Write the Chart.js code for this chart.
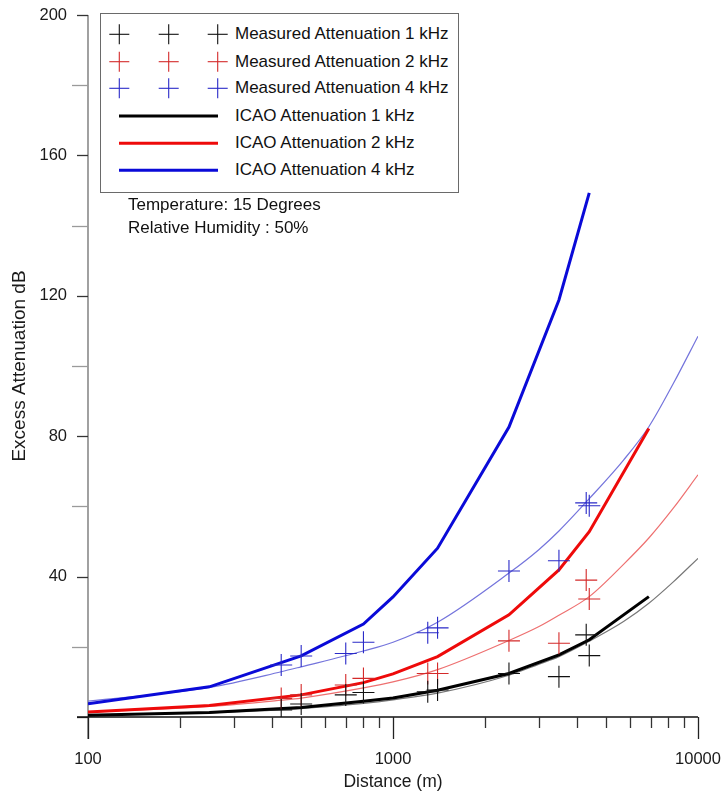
<!DOCTYPE html>
<html>
<head>
<meta charset="utf-8">
<script src="https://cdn.jsdelivr.net/npm/chart.js@4.4.1/dist/chart.umd.min.js"></script>
<style>
  html, body { margin: 0; padding: 0; background: #fff; }
  #wrap { position: relative; width: 723px; height: 794px; overflow: hidden; }
  #chart { position: absolute; left: 0; top: 0; }
  .legend { position: absolute; left: 100px; top: 13px; width: 359px; height: 180px;
            box-sizing: border-box; border: 1.3px solid #6a6a6a; background: #fff;
            font-family: "Liberation Sans", Arial, sans-serif; font-size: 17px; color: #111; }
  .legend svg { position: absolute; left: 0; top: 0; }
  .legend span { position: absolute; left: 134px; line-height: 20px; white-space: nowrap; }
  .note { position: absolute; left: 128px; font-family: "Liberation Sans", Arial, sans-serif;
          font-size: 17px; line-height: 20px; color: #111; white-space: nowrap; }
</style>
</head>
<body>
<div id="wrap">
  <canvas id="chart" width="723" height="794"></canvas>
  <div class="legend" id="legend"></div>
  <div class="note" style="top:195px">Temperature: 15 Degrees</div>
  <div class="note" style="top:218px">Relative Humidity : 50%</div>
</div>
<script>
// ---------- data ----------
const measuredDistances = [430, 500, 700, 800, 1300, 1400, 2400, 3500, 4300, 4400];
const measured1k = [2.0, 3.7, 6.3, 7.0, 7.2, 7.7, 12.4, 11.5, 23.4, 17.5];
const measured2k = [5.3, 6.3, 9.1, 11.0, 12.4, 12.4, 21.7, 21.0, 39.0, 33.6];
const measured4k = [14.8, 17.4, 18.1, 21.3, 24.0, 25.4, 41.6, 44.5, 61.0, 60.2];

const icaoDistances = [100, 250, 500, 800, 1000, 1400, 2400, 3500, 4400, 6900];
const icao1k = [0.5, 1.3, 2.7, 4.5, 5.4, 7.6, 12.4, 17.7, 22.0, 34.3];
const icao2k = [1.4, 3.3, 6.3, 9.8, 12.3, 17.2, 29.1, 41.9, 52.8, 82.2];
const icao4kDistances = [100, 250, 500, 800, 1000, 1400, 2400, 3500, 4400];
const icao4k = [3.8, 8.6, 17.4, 26.5, 34.2, 48.1, 82.6, 118.8, 149.3];

const fitDistances = [100, 250, 430, 500, 800, 1000, 1400, 2400, 3000, 3500, 4400, 5700, 6900, 8300, 10000];
const fit1k = [0.5, 1.2, 2.0, 2.4, 3.9, 4.9, 6.8, 11.9, 15.0, 17.2, 21.6, 27.2, 32.4, 38.5, 45.2];
const fit2k = [1.4, 3.0, 4.8, 5.4, 8.3, 10.0, 13.5, 21.8, 25.7, 29.0, 34.3, 43.5, 51.0, 59.5, 69.0];
const fit4k = [4.5, 8.4, 12.9, 14.3, 18.8, 21.3, 27.0, 41.0, 47.6, 53.0, 62.2, 73.2, 82.7, 95.0, 108.5];

const xTickValues = [100,200,300,400,500,600,700,800,900,1000,2000,3000,4000,5000,6000,7000,8000,9000,10000];
const xLabelValues = [100, 1000, 10000];
const yTickValues = [0,20,40,60,80,100,120,140,160,180,200];
const yLabelValues = [40, 80, 120, 160, 200];

const legendLabels = [
  'Measured Attenuation 1 kHz', 'Measured Attenuation 2 kHz', 'Measured Attenuation 4 kHz',
  'ICAO Attenuation 1 kHz', 'ICAO Attenuation 2 kHz', 'ICAO Attenuation 4 kHz'
];
const xTitle = 'Distance (m)';
const yTitle = 'Excess Attenuation dB';

// ---------- colours ----------
const C = {
  m1: '#111111', m2: '#d42a2a', m4: '#2a2ac8',
  i1: '#000000', i2: '#ee0a0a', i4: '#0a0ad8',
  f1: '#777777', f2: '#ee7070', f4: '#7474dc'
};

const pts = (xs, ys) => xs.map((x, i) => ({x, y: ys[i]}));
const crossDs = (label, ys, color) => ({
  label, data: pts(measuredDistances, ys), showLine: false,
  pointStyle: 'cross', pointRadius: 11, pointBorderWidth: 1.1,
  borderColor: color, backgroundColor: color
});
const lineDs = (label, xs, ys, color, w, smooth) => ({
  label, data: pts(xs, ys), showLine: true, pointRadius: 0, borderWidth: w,
  borderColor: color, backgroundColor: color, fill: false,
  cubicInterpolationMode: smooth ? 'monotone' : 'default', tension: 0
});

const axisPlugin = {
  id: 'axisDraw',
  beforeDatasetsDraw(chart) {
    const {ctx, chartArea: a, scales: {x, y}} = chart;
    ctx.save();
    ctx.lineWidth = 1.3;
    ctx.strokeStyle = '#6e6e6e';
    ctx.beginPath(); ctx.moveTo(a.left, a.top); ctx.lineTo(a.left, a.bottom + 22); ctx.stroke();
    yTickValues.forEach(v => {
      const py = Math.round(y.getPixelForValue(v)) + 0.5;
      const major = v % 40 === 0;
      ctx.strokeStyle = major ? '#333' : '#9a9a9a';
      ctx.beginPath(); ctx.moveTo(a.left - (major ? 11 : 16), py); ctx.lineTo(a.left, py); ctx.stroke();
    });
    ctx.strokeStyle = '#111';
    ctx.beginPath(); ctx.moveTo(a.left - 11, a.bottom); ctx.lineTo(a.right, a.bottom); ctx.stroke();
    xTickValues.forEach(v => {
      const px = Math.round(x.getPixelForValue(v)) + 0.5;
      const major = xLabelValues.includes(v);
      ctx.strokeStyle = major ? '#222' : '#333';
      ctx.beginPath(); ctx.moveTo(px, a.bottom); ctx.lineTo(px, a.bottom + (major ? 22 : 11)); ctx.stroke();
    });
    ctx.restore();
  }
};

const font = "'Liberation Sans', Arial, sans-serif";
new Chart(document.getElementById('chart'), {
  type: 'scatter',
  data: {
    datasets: [
      crossDs(legendLabels[0], measured1k, C.m1),
      crossDs(legendLabels[1], measured2k, C.m2),
      crossDs(legendLabels[2], measured4k, C.m4),
      lineDs(legendLabels[3], icaoDistances, icao1k, C.i1, 3, false),
      lineDs(legendLabels[4], icaoDistances, icao2k, C.i2, 3, false),
      lineDs(legendLabels[5], icao4kDistances, icao4k, C.i4, 3, false),
      lineDs('Fit 1 kHz', fitDistances, fit1k, C.f1, 1.2, true),
      lineDs('Fit 2 kHz', fitDistances, fit2k, C.f2, 1.2, true),
      lineDs('Fit 4 kHz', fitDistances, fit4k, C.f4, 1.2, true)
    ]
  },
  options: {
    responsive: false, animation: false, events: [],
    layout: { padding: { top: 15, right: 25, left: 0, bottom: 0 } },
    plugins: { legend: { display: false }, tooltip: { enabled: false } },
    scales: {
      x: {
        type: 'logarithmic', min: 100, max: 10000,
        grid: { display: false, drawTicks: false }, border: { display: false },
        afterBuildTicks: s => { s.ticks = xTickValues.map(v => ({value: v})); },
        afterFit: s => { s.height = 77; s.paddingLeft = 0; s.paddingRight = 0; s.paddingTop = 0; s.paddingBottom = 0; },
        ticks: {
          autoSkip: false, maxRotation: 0, padding: 33, color: '#1a1a1a',
          font: { family: font, size: 16.5 },
          callback: v => xLabelValues.includes(v) ? String(v) : ''
        },
        title: { display: true, text: xTitle, color: '#1a1a1a', padding: { top: 0, bottom: 1.5 },
                 font: { family: font, size: 17.5 } }
      },
      y: {
        type: 'linear', min: 0, max: 200,
        grid: { display: false, drawTicks: false }, border: { display: false },
        afterBuildTicks: s => { s.ticks = yTickValues.map(v => ({value: v})); },
        afterFit: s => { s.width = 88; s.paddingLeft = 0; s.paddingRight = 0; s.paddingTop = 0; s.paddingBottom = 0; },
        ticks: {
          padding: 21, color: '#1a1a1a', font: { family: font, size: 16.5 },
          callback: v => yLabelValues.includes(v) ? String(v) : ''
        },
        title: { display: true, text: yTitle, color: '#1a1a1a', padding: { top: 8, bottom: 0 },
                 font: { family: font, size: 19 } }
      }
    }
  },
  plugins: [axisPlugin]
});

// ---------- legend (HTML) ----------
(function buildLegend() {
  const el = document.getElementById('legend');
  const rowsY = [20.3, 47.7, 74.3, 102, 129.3, 156.3];
  const crossX = [18.3, 67.7, 116.7];
  const colors = [C.m1, C.m2, C.m4, C.i1, C.i2, C.i4];
  let svg = '<svg width="359" height="180" xmlns="http://www.w3.org/2000/svg">';
  rowsY.forEach((ry, i) => {
    if (i < 3) {
      crossX.forEach(cx => {
        svg += `<line x1="${cx-10}" y1="${ry}" x2="${cx+10}" y2="${ry}" stroke="${colors[i]}" stroke-width="1.1"/>`;
        svg += `<line x1="${cx}" y1="${ry-10}" x2="${cx}" y2="${ry+10}" stroke="${colors[i]}" stroke-width="1.1"/>`;
      });
    } else {
      svg += `<line x1="18" y1="${ry}" x2="117" y2="${ry}" stroke="${colors[i]}" stroke-width="3"/>`;
    }
  });
  svg += '</svg>';
  el.innerHTML = svg + legendLabels.map((t, i) => `<span style="top:${rowsY[i]-10}px">${t}</span>`).join('');
})();
</script>
</body>
</html>
